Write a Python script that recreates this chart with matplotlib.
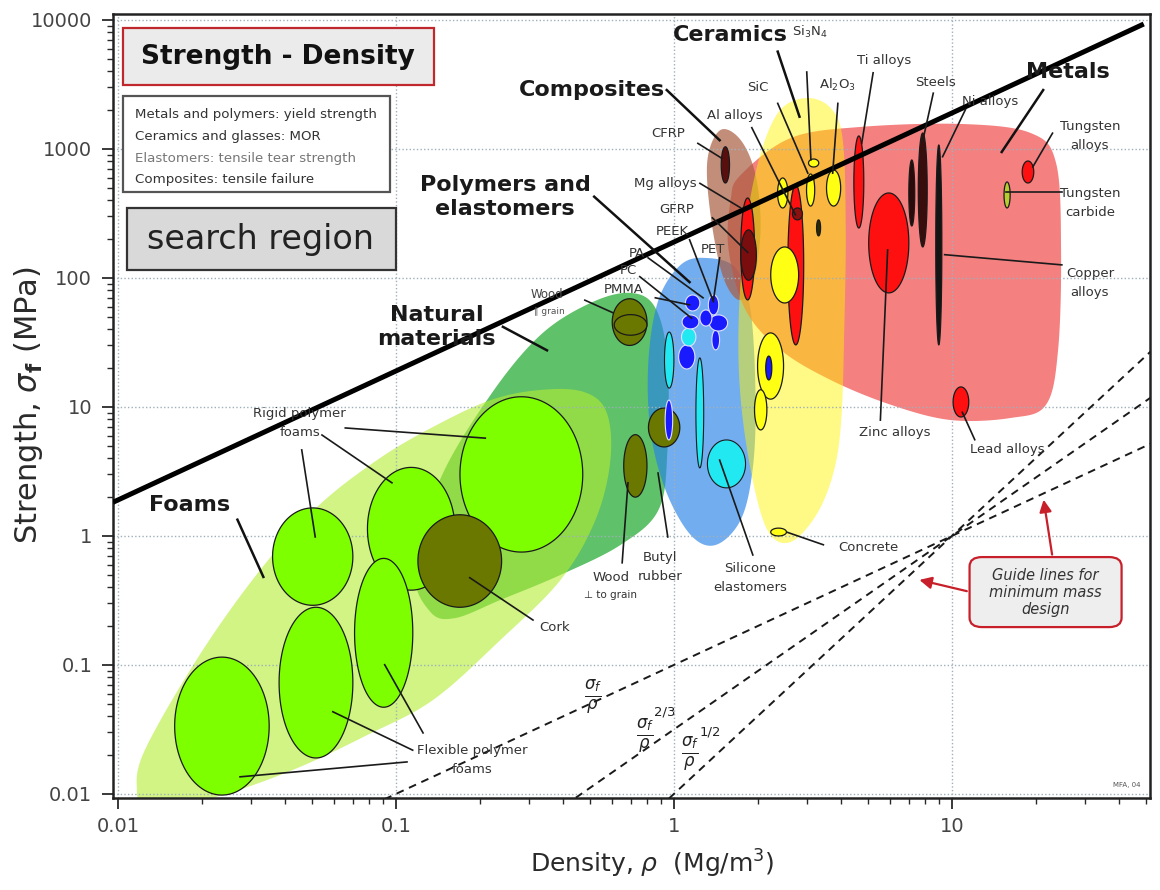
import numpy as np
import matplotlib
matplotlib.use("Agg")
import matplotlib.pyplot as plt
from matplotlib.patches import Rectangle, FancyBboxPatch
from matplotlib.ticker import LogLocator, FuncFormatter, NullFormatter

plt.rcParams['font.family'] = ['DejaVu Sans']
plt.rcParams['mathtext.fontset'] = 'dejavusans'

# ---------------------------------------------------------------- data
# Family envelopes: outline vertices (density Mg/m^3, strength MPa)
natural_env_rho = [0.133, 0.117, 0.144, 0.219, 0.331, 0.501, 0.698, 0.858, 0.948, 0.948, 0.88, 0.642, 0.391, 0.2375, 0.1635]
natural_env_sig = [0.258, 0.545, 2.72, 12.4, 36.1, 64.0, 76.6, 58.5, 23.1, 4.64, 1.59, 0.851, 0.499, 0.319, 0.231]

foams_env_rho = [0.0117, 0.0125, 0.0197, 0.0325, 0.0521, 0.0856, 0.136, 0.219, 0.331, 0.473, 0.572,
                 0.591, 0.522, 0.391, 0.2375, 0.136, 0.0788, 0.0452, 0.026, 0.0167, 0.0125]
foams_env_sig = [0.0107, 0.0219, 0.120, 0.545, 1.68, 3.88, 7.0, 11.3, 13.55, 13.1, 9.14,
                 3.88, 1.33, 0.456, 0.156, 0.0535, 0.0286, 0.0162, 0.0104, 0.0082, 0.0085]

polymer_env_rho = [1.30, 1.667, 1.887, 1.967, 1.919, 1.738, 1.412, 1.148, 0.933, 0.823, 0.81, 0.88, 1.056]
polymer_env_sig = [143, 119.6, 56.5, 11.3, 3.25, 1.33, 0.851, 1.02, 2.27, 6.63, 23.1, 67.6, 126]

metal_env_rho = [1.738, 2.63, 4.70, 10.8, 19.2, 23.7, 24.7, 24.1, 21.8, 16.3, 9.9, 6.03, 3.66, 2.42, 1.81, 1.573, 1.60]
metal_env_sig = [628, 1216, 1483, 1563, 1330, 778, 165, 27.7, 10.4, 8.22, 7.92, 10.4, 16.2, 27.7, 56.5, 165, 403]

composite_env_rho = [1.47, 1.738, 1.967, 2.05, 1.919, 1.708, 1.496, 1.355, 1.32]
composite_env_sig = [1403, 1175, 628, 236, 88.3, 67.6, 105, 307, 822]

ceramic_env_rho = [2.98, 3.66, 4.05, 4.15, 4.10, 4.00, 3.75, 3.25, 2.63, 2.19, 1.92, 1.74, 1.71, 1.81, 2.02, 2.38]
ceramic_env_sig = [2483, 2080, 1175, 236, 39.5, 7.92, 3.1, 1.45, 0.898, 1.07, 2.72, 11.3, 47.2, 236, 822, 1936]

# Material bubbles: density range (Mg/m^3) and strength range (MPa)
foam_rho = [(0.016, 0.035), (0.038, 0.070), (0.036, 0.070), (0.079, 0.163), (0.071, 0.115), (0.17, 0.47)]
foam_sig = [(0.0098, 0.115), (0.019, 0.28), (0.29, 1.65), (0.38, 3.4), (0.047, 0.67), (0.75, 12.0)]

natural_rho = [(0.12, 0.24), (0.60, 0.80), (0.61, 0.80), (0.66, 0.80), (0.81, 1.05)]
natural_sig = [(0.28, 1.46), (30.0, 69.0), (36.0, 52.0), (2.0, 6.1), (4.9, 9.8)]

polymer_rho = [(0.925, 1.0), (0.93, 0.99), (1.20, 1.28), (1.32, 1.81), (1.04, 1.19), (1.065, 1.20),
               (1.37, 1.46), (1.07, 1.23), (1.34, 1.56), (1.24, 1.37), (1.10, 1.24), (1.33, 1.45)]
polymer_sig = [(14.0, 38.1), (5.55, 11.3), (3.37, 24.0), (2.36, 5.55), (19.7, 30.3), (29.7, 40.9),
               (27.7, 39.5), (40.3, 51.7), (38.8, 51.7), (42.4, 56.5), (55.5, 73.8), (51.7, 73.8)]

metal_rho = [(1.74, 1.95), (2.57, 2.93), (4.44, 4.82), (5.02, 7.0), (7.0, 7.35), (7.57, 8.15),
             (8.75, 9.2), (17.9, 19.7), (10.1, 11.5), (15.4, 16.2), (2.67, 2.90)]
metal_sig = [(67.6, 417), (30.3, 526), (244, 1262), (76.6, 456), (253, 822), (174, 1330),
             (30.3, 1074), (545, 807), (8.36, 14.3), (349, 555), (282, 349)]

composite_rho = [(1.48, 1.585), (1.74, 1.98)]
composite_sig = [(545, 1040), (96, 236)]

ceramic_rho = [(2.23, 2.81), (3.05, 3.32), (3.00, 3.21), (3.54, 3.98), (2.36, 2.57), (2.00, 2.48),
               (1.95, 2.16), (2.23, 2.54), (3.26, 3.37), (2.14, 2.25)]
ceramic_sig = [(64, 174), (725, 836), (361, 640), (361, 687), (349, 596), (11.5, 37.5),
               (6.64, 13.6), (1.0, 1.15), (212, 282), (16.2, 24.8)]

# Performance index line sigma_f / rho = const (MPa per Mg/m^3)
index_value = 190.0
index_rho = [0.0096, 49.0]

# Minimum-mass guide lines: exponents of sigma_f, all through (10 Mg/m^3, 1 MPa)
guide_exponent = [1.0, 1.5, 2.0]
guide_anchor_rho, guide_anchor_sig = 10.0, 1.0

x_ticks = [0.01, 0.1, 1, 10]
y_ticks = [0.01, 0.1, 1, 10, 100, 1000, 10000]

# ---------------------------------------------------------------- styles
foam_colors = ['#7dff00'] * 6
natural_colors = ['#6b7800'] * 5
BLUE, CYAN = '#1a1aff', '#22e8f2'
polymer_colors = [CYAN, BLUE, CYAN, CYAN, BLUE, CYAN, BLUE, BLUE, BLUE, BLUE, BLUE, BLUE]
polymer_edges = ['#1a1a1a', '#e0e0ff', '#1a1a1a', '#1a1a1a', '#e0e0ff', '#e0e0ff',
                 '#e0e0ff', '#e0e0ff', '#e0e0ff', '#e0e0ff', '#e0e0ff', '#e0e0ff']
RED = '#ff1010'
metal_colors = [RED, RED, RED, RED, '#2a0a0a', '#3a0d0d', '#141414', RED, RED, '#b8cc30', '#8b1010']
composite_colors = ['#5a0f0f', '#7a0d0d']
YEL = '#ffff14'
ceramic_colors = [YEL] * 8 + ['#2a2a00', BLUE]


def closed_spline(px, py, n=24):
    P = np.column_stack([px, py])
    N = len(P)
    t = np.linspace(0, 1, n, endpoint=False)[:, None]
    segs = []
    for i in range(N):
        p0, p1, p2, p3 = P[i - 1], P[i], P[(i + 1) % N], P[(i + 2) % N]
        segs.append(0.5 * (2 * p1 + (-p0 + p2) * t + (2 * p0 - 5 * p1 + 4 * p2 - p3) * t ** 2
                           + (-p0 + 3 * p1 - 3 * p2 + p3) * t ** 3))
    return np.vstack(segs)


def envelope(ax, rho, sig, color, alpha, z):
    c = closed_spline(np.log10(rho), np.log10(sig))
    ax.fill(10 ** c[:, 0], 10 ** c[:, 1], facecolor=color, alpha=alpha, lw=0, zorder=z)


def bubbles(ax, rhos, sigs, colors, edges=None, lw=0.9, z=3):
    t = np.linspace(0, 2 * np.pi, 160)
    for k, (r, s) in enumerate(zip(rhos, sigs)):
        lr, ls = np.log10(r), np.log10(s)
        cx, cy = lr.mean(), ls.mean()
        a, b = (lr[1] - lr[0]) / 2, (ls[1] - ls[0]) / 2
        ec = '#1a1a1a' if edges is None else edges[k]
        ax.fill(10 ** (cx + a * np.cos(t)), 10 ** (cy + b * np.sin(t)),
                facecolor=colors[k], edgecolor=ec, lw=lw, zorder=z)


fig = plt.figure(figsize=(11.6, 8.9), dpi=100)
ax = fig.add_axes([0.09741, 0.10337, 0.89397, 0.88090])
ax.set_xscale('log')
ax.set_yscale('log')
ax.set_xlim(0.0096, 51.6)
ax.set_ylim(0.0093, 11130)

# envelopes (semi-transparent, overlaps blend)
envelope(ax, natural_env_rho, natural_env_sig, (0.02, 0.62, 0.08), 0.64, 1.0)
envelope(ax, foams_env_rho, foams_env_sig, (0.70, 0.93, 0.20), 0.60, 1.1)
envelope(ax, polymer_env_rho, polymer_env_sig, (0.15, 0.51, 0.91), 0.65, 1.2)
envelope(ax, metal_env_rho, metal_env_sig, (0.943, 0.29, 0.29), 0.70, 1.3)
envelope(ax, composite_env_rho, composite_env_sig, (0.66, 0.37, 0.26), 0.70, 1.4)
envelope(ax, ceramic_env_rho, ceramic_env_sig, (1.0, 0.96, 0.0), 0.48, 1.5)

# bubbles
bubbles(ax, foam_rho, foam_sig, foam_colors)
bubbles(ax, natural_rho, natural_sig, natural_colors)
bubbles(ax, polymer_rho, polymer_sig, polymer_colors, polymer_edges, lw=0.8)
bubbles(ax, metal_rho, metal_sig, metal_colors)
bubbles(ax, composite_rho, composite_sig, composite_colors)
bubbles(ax, ceramic_rho, ceramic_sig, ceramic_colors)

# index line
ir = np.array(index_rho)
ax.plot(ir, index_value * ir, color='black', lw=3.6, solid_capstyle='butt', zorder=6)

# guide lines
gx = np.logspace(-2.1, 1.75, 200)
for n in guide_exponent:
    ax.plot(gx, guide_anchor_sig * (gx / guide_anchor_rho) ** n, color='#1a1a1a', lw=1.4,
            linestyle=(0, (4, 3)), zorder=6)

# axes styling
ax.xaxis.set_minor_locator(LogLocator(base=10, subs=np.arange(2, 10), numticks=20))
ax.yaxis.set_minor_locator(LogLocator(base=10, subs=np.arange(2, 10), numticks=20))
ax.set_xticks(x_ticks)
ax.set_yticks(y_ticks)
fmt = FuncFormatter(lambda v, p: '%g' % v)
ax.xaxis.set_major_formatter(fmt)
ax.yaxis.set_major_formatter(fmt)
ax.xaxis.set_minor_formatter(NullFormatter())
ax.yaxis.set_minor_formatter(NullFormatter())
ax.tick_params(which='major', direction='out', length=8, width=1.3, labelsize=14,
               labelcolor='#444444', color='#2a2a2a')
ax.tick_params(axis='y', which='major', pad=7)
ax.tick_params(axis='x', which='major', pad=6)
ax.tick_params(which='minor', direction='out', length=4.5, width=1.0, color='#2a2a2a')
for s in ax.spines.values():
    s.set_linewidth(1.8)
    s.set_color('#222222')
ax.set_axisbelow('line')
ax.grid(True, which='major', color='#9fb0ba', lw=1.0, linestyle=(0, (1, 1.6)))

ax.set_xlabel(r'Density, $\rho$  (Mg/m$^3$)', fontsize=18, color='#2a2a2a')
ax.set_ylabel(r'Strength, $\sigma_\mathbf{f}$ (MPa)', fontsize=22, color='#2a2a2a')
ax.xaxis.set_label_coords(0.52, -0.064)
ax.yaxis.set_label_coords(-0.0656, 0.501)

T = ax.transAxes

# header boxes
ax.add_patch(Rectangle((0.0096, 0.909), 0.300, 0.0727, transform=T, facecolor='#ebebeb',
                       edgecolor='#c0282d', lw=1.6, zorder=8))
ax.text(0.159, 0.945, 'Strength - Density', transform=T, ha='center', va='center',
        fontsize=19, fontweight='bold', color='#111111', zorder=9)

ax.add_patch(Rectangle((0.0096, 0.773), 0.2575, 0.1224, transform=T, facecolor='white',
                       edgecolor='#555555', lw=1.6, zorder=8))
notes = [('Metals and polymers: yield strength', '#333333'),
         ('Ceramics and glasses: MOR', '#333333'),
         ('Elastomers: tensile tear strength', '#777777'),
         ('Composites: tensile failure', '#333333')]
for (txt, col), fy in zip(notes, [0.872, 0.844, 0.816, 0.7895]):
    ax.text(0.021, fy, txt, transform=T, ha='left', va='center', fontsize=9.6, color=col, zorder=9)

ax.add_patch(Rectangle((0.0135, 0.673), 0.2594, 0.079, transform=T, facecolor='#d9d9d9',
                       edgecolor='#333333', lw=1.6, zorder=8))
ax.text(0.142, 0.712, 'search region', transform=T, ha='center', va='center',
        fontsize=24, color='#222222', zorder=9)

# family labels
fam = [('Ceramics', 0.595, 0.973), ('Composites', 0.462, 0.903),
       ('Metals', 0.921, 0.926), ('Polymers and\nelastomers', 0.378, 0.767),
       ('Natural\nmaterials', 0.312, 0.601), ('Foams', 0.074, 0.374)]
for txt, fx, fy in fam:
    ax.text(fx, fy, txt, transform=T, ha='center', va='center', fontsize=16, fontweight='bold',
            color='#1a1a1a', linespacing=1.25, zorder=9)

fam_leaders = [(0.641, 0.952, 0.662, 0.869), (0.534, 0.903, 0.585, 0.839),
               (0.897, 0.903, 0.857, 0.824), (0.464, 0.767, 0.556, 0.658),
               (0.376, 0.601, 0.4185, 0.571), (0.120, 0.355, 0.145, 0.282)]
for x0, y0, x1, y1 in fam_leaders:
    ax.plot([x0, x1], [y0, y1], transform=T, color='#111111', lw=1.8, zorder=7)

# material labels
mat = [(r'Si$_3$N$_4$', 0.672, 0.977), ('SiC', 0.622, 0.906), (r'Al$_2$O$_3$', 0.699, 0.909),
       ('Ti alloys', 0.7435, 0.941), ('Steels', 0.793, 0.913), ('Ni alloys', 0.846, 0.889),
       ('Al alloys', 0.600, 0.871), ('CFRP', 0.535, 0.848), ('Mg alloys', 0.533, 0.784),
       ('GFRP', 0.544, 0.750), ('PEEK', 0.539, 0.722), ('PA', 0.505, 0.695), ('PC', 0.497, 0.673),
       ('PMMA', 0.492, 0.648), ('PET', 0.579, 0.699),
       ('Rigid polymer\nfoams', 0.180, 0.478), ('Flexible polymer\nfoams', 0.346, 0.049),
       ('Cork', 0.426, 0.217), ('Butyl\nrubber', 0.5275, 0.295),
       ('Silicone\nelastomers', 0.614, 0.281), ('Concrete', 0.728, 0.319),
       ('Zinc alloys', 0.754, 0.466), ('Lead alloys', 0.862, 0.444),
       ('Tungsten\nalloys', 0.942, 0.845), ('Tungsten\ncarbide', 0.942, 0.759),
       ('Copper\nalloys', 0.942, 0.657)]
for txt, fx, fy in mat:
    ax.text(fx, fy, txt, transform=T, ha='center', va='center', fontsize=9.5, color='#333333',
            linespacing=1.6, zorder=9)
ax.text(0.4185, 0.6416, 'Wood', transform=T, ha='center', va='center', fontsize=8.5, color='#444444', zorder=9)
ax.text(0.421, 0.621, '\u2225 grain', transform=T, ha='center', va='center', fontsize=6.5, color='#555555', zorder=9)
ax.text(0.480, 0.281, 'Wood', transform=T, ha='center', va='center', fontsize=9.5, color='#333333', zorder=9)
ax.text(0.480, 0.259, '\u22a5 to grain', transform=T, ha='center', va='center', fontsize=7.5, color='#333333', zorder=9)
ax.text(0.978, 0.017, 'MFA, 04', transform=T, ha='center', va='center', fontsize=5, color='#555555', zorder=9)

mat_leaders = [(0.669, 0.926, 0.673, 0.814), (0.641, 0.886, 0.670, 0.797), (0.699, 0.886, 0.694, 0.797),
               (0.733, 0.925, 0.722, 0.835), (0.791, 0.899, 0.781, 0.839), (0.822, 0.878, 0.800, 0.818),
               (0.616, 0.855, 0.658, 0.744), (0.564, 0.835, 0.587, 0.816), (0.566, 0.784, 0.605, 0.753),
               (0.578, 0.740, 0.612, 0.696), (0.556, 0.712, 0.579, 0.633), (0.516, 0.689, 0.569, 0.638),
               (0.508, 0.665, 0.558, 0.612), (0.523, 0.638, 0.556, 0.629), (0.585, 0.689, 0.579, 0.635),
               (0.455, 0.635, 0.482, 0.619),
               (0.224, 0.472, 0.359, 0.459), (0.2015, 0.463, 0.269, 0.402), (0.182, 0.444, 0.195, 0.333),
               (0.289, 0.061, 0.212, 0.110), (0.299, 0.083, 0.262, 0.170), (0.2835, 0.046, 0.1225, 0.027),
               (0.405, 0.227, 0.344, 0.281), (0.491, 0.300, 0.4966, 0.402), (0.535, 0.333, 0.5256, 0.4145),
               (0.617, 0.310, 0.585, 0.431), (0.685, 0.323, 0.650, 0.339), (0.740, 0.482, 0.747, 0.699),
               (0.831, 0.457, 0.819, 0.492), (0.906, 0.848, 0.887, 0.805), (0.915, 0.773, 0.861, 0.773),
               (0.915, 0.680, 0.802, 0.693)]
for x0, y0, x1, y1 in mat_leaders:
    ax.plot([x0, x1], [y0, y1], transform=T, color='#1a1a1a', lw=1.2, zorder=7)

# guide line labels
ax.text(0.463, 0.129, r'$\frac{\sigma_f}{\rho}$', transform=T, ha='center', va='center', fontsize=17, color='#222222', zorder=9)
ax.text(0.513, 0.080, r'$\frac{\sigma_f}{\rho}$', transform=T, ha='center', va='center', fontsize=17, color='#222222', zorder=9)
ax.text(0.532, 0.110, '2/3', transform=T, ha='center', va='center', fontsize=9.5, color='#222222', zorder=9)
ax.text(0.556, 0.057, r'$\frac{\sigma_f}{\rho}$', transform=T, ha='center', va='center', fontsize=17, color='#222222', zorder=9)
ax.text(0.576, 0.084, '1/2', transform=T, ha='center', va='center', fontsize=9.5, color='#222222', zorder=9)

# guide annotation
ax.add_patch(FancyBboxPatch((0.826, 0.218), 0.1466, 0.0893, boxstyle='round,pad=0,rounding_size=0.012',
                            transform=T, facecolor='#eeeeee', edgecolor='#c8202a', lw=1.6, zorder=8))
ax.text(0.8993, 0.2625, 'Guide lines for\nminimum mass\ndesign', transform=T, ha='center', va='center',
        fontsize=10.5, style='italic', color='#333333', linespacing=1.15, zorder=9)
for (x0, y0, x1, y1) in [(0.826, 0.263, 0.775, 0.279), (0.906, 0.307, 0.897, 0.384)]:
    ax.annotate('', xy=(x1, y1), xytext=(x0, y0), xycoords=T, textcoords=T,
                arrowprops=dict(arrowstyle='-|>', color='#c8202a', lw=1.6, mutation_scale=18), zorder=9)

fig.savefig('out.png', dpi=100)
